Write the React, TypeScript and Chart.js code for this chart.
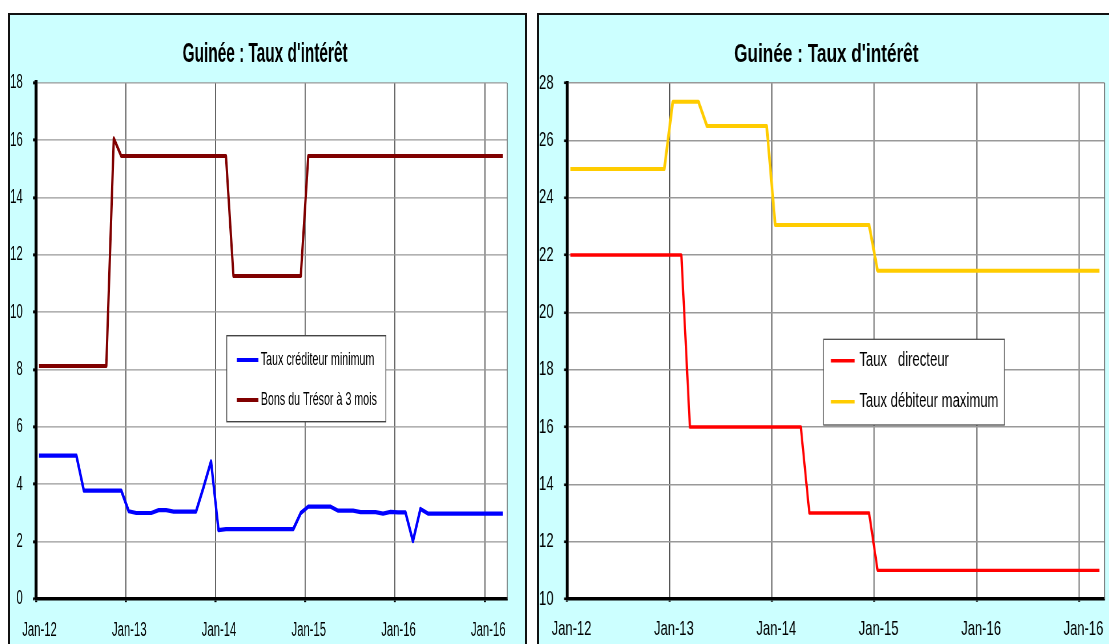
import React, { useEffect, useRef } from "react";
import { Chart, registerables } from "chart.js";

Chart.register(...registerables);

// ---------- DATA ----------
// Monthly observations, Jan-12 .. Mar-17 (63 months)
const MONTH_COUNT = 63;
const POINT_OFFSET = 0.4; // observations dated around mid-month
const X_TICK_MONTHS = [0, 12, 24, 36, 48, 60];
const X_TICK_LABELS = ["Jan-12", "Jan-13", "Jan-14", "Jan-15", "Jan-16", "Jan-16"];
const TITLE = "Guinée : Taux d'intérêt";

const tauxCrediteurMinimum = [
  5.0, 5.0, 5.0, 5.0, 5.0, 5.0,
  3.78, 3.78, 3.78, 3.78, 3.78, 3.78,
  3.06, 3.0, 3.0, 3.0, 3.1, 3.1, 3.05, 3.05, 3.05, 3.05, 3.9, 4.8,
  2.4, 2.44, 2.44, 2.44, 2.44, 2.44, 2.44, 2.44, 2.44, 2.44, 2.44,
  3.0, 3.22, 3.22, 3.22, 3.22, 3.08, 3.08, 3.08, 3.03, 3.03, 3.03, 2.98, 3.04,
  3.02, 3.02, 2.02, 3.14, 2.98, 2.98, 2.98, 2.98, 2.98, 2.98, 2.98, 2.98, 2.98, 2.98, 2.98,
];

const bonsTresor3Mois = [
  8.13, 8.13, 8.13, 8.13, 8.13, 8.13, 8.13, 8.13, 8.13, 8.13,
  16.07,
  15.45, 15.45, 15.45, 15.45, 15.45, 15.45, 15.45, 15.45, 15.45, 15.45, 15.45, 15.45, 15.45, 15.45, 15.45,
  11.27, 11.27, 11.27, 11.27, 11.27, 11.27, 11.27, 11.27, 11.27, 11.27,
  15.45, 15.45, 15.45, 15.45, 15.45, 15.45, 15.45, 15.45, 15.45, 15.45, 15.45, 15.45, 15.45, 15.45,
  15.45, 15.45, 15.45, 15.45, 15.45, 15.45, 15.45, 15.45, 15.45, 15.45, 15.45, 15.45, 15.45,
];

const tauxDirecteur = [
  22, 22, 22, 22, 22, 22, 22, 22, 22, 22, 22, 22, 22, 22,
  16, 16, 16, 16, 16, 16, 16, 16, 16, 16, 16, 16, 16, 16,
  13, 13, 13, 13, 13, 13, 13, 13,
  11, 11, 11, 11, 11, 11, 11, 11, 11, 11, 11, 11, 11, 11,
  11, 11, 11, 11, 11, 11, 11, 11, 11, 11, 11, 11, 11,
];

const tauxDebiteurMaximum = [
  25.0, 25.0, 25.0, 25.0, 25.0, 25.0, 25.0, 25.0, 25.0, 25.0, 25.0, 25.0,
  27.35, 27.35, 27.35, 27.35,
  26.5, 26.5, 26.5, 26.5, 26.5, 26.5, 26.5, 26.5,
  23.05, 23.05, 23.05, 23.05, 23.05, 23.05, 23.05, 23.05, 23.05, 23.05, 23.05, 23.05,
  21.45, 21.45, 21.45, 21.45, 21.45, 21.45, 21.45, 21.45, 21.45, 21.45, 21.45, 21.45, 21.45, 21.45,
  21.45, 21.45, 21.45, 21.45, 21.45, 21.45, 21.45, 21.45, 21.45, 21.45, 21.45, 21.45, 21.45,
];

// ---------- STYLE / LAYOUT ----------
const FONT = '"Liberation Sans", Arial, sans-serif';
const PANEL_BG = "#CCFFFF";

const LEFT_PANEL = {
  box: { left: 8, top: 13, width: 519 },
  origin: { x: 10, y: 15 },
  cssW: 515,
  cssH: 629,
  logicalH: 359,
  plot: { left: 36, right: 507, top: 83, bottom: 599 },
  yMin: 0,
  yMax: 18,
  tickFont: 11.3,
  titleFont: 15.4,
  title: { x: 265, y: 62 },
  xLabelOffset: 3.5,
  xPad: 9.2,
  yPad: 10.3,
  xBorder: 2.0,
  legend: {
    left: 226.7, right: 385.7, top: 335.7, bottom: 421.7,
    sx1: 236.7, sx2: 258.3, rows: [360, 400], textX: 260.7, font: 10.7, sampleW: 2.3,
  },
  series: [
    { label: "Taux créditeur minimum", values: tauxCrediteurMinimum, color: "#0000FF", width: 2.4 },
    { label: "Bons du Trésor à 3 mois", values: bonsTresor3Mois, color: "#800000", width: 2.3 },
  ],
};

const RIGHT_PANEL = {
  box: { left: 537, top: 13, width: 580 },
  origin: { x: 539, y: 15 },
  cssW: 576,
  cssH: 629,
  logicalH: 409,
  plot: { left: 567, right: 1104, top: 83, bottom: 599 },
  yMin: 10,
  yMax: 28,
  tickFont: 13.0,
  titleFont: 17.2,
  title: { x: 826, y: 62 },
  xLabelOffset: 4.5,
  xPad: 10.4,
  yPad: 10.5,
  xBorder: 2.3,
  legend: {
    left: 823.3, right: 1004, top: 339.3, bottom: 425,
    sx1: 830.7, sx2: 854.3, rows: [360.7, 401.7], textX: 859, font: 13.1, sampleW: 2.3,
  },
  series: [
    { label: "Taux   directeur", values: tauxDirecteur, color: "#FF0000", width: 2.2 },
    { label: "Taux débiteur maximum", values: tauxDebiteurMaximum, color: "#FFCC00", width: 2.6 },
  ],
};

const decorPlugin = {
  id: "decor",
  beforeDraw(chart: any) {
    const { ctx, chartArea: a } = chart;
    ctx.save();
    ctx.fillStyle = "#FFFFFF";
    ctx.fillRect(a.left, a.top, a.right - a.left, a.bottom - a.top);
    ctx.restore();
  },
  beforeDatasetsDraw(chart: any) {
    const { ctx, chartArea: a } = chart;
    ctx.save();
    ctx.strokeStyle = "#666";
    ctx.lineWidth = 1;
    ctx.beginPath();
    ctx.moveTo(a.right, a.top);
    ctx.lineTo(a.right, a.bottom);
    ctx.stroke();
    ctx.restore();
  },
  afterDraw(chart: any, _args: any, opts: any) {
    const { ctx } = chart;
    const lx = (px: number) => px - opts.origin.x;
    const ly = (py: number) => (py - opts.origin.y) / opts.k;
    ctx.save();
    // title
    ctx.fillStyle = "#000";
    ctx.font = `bold ${opts.titleFont}px ${FONT}`;
    ctx.textAlign = "center";
    ctx.textBaseline = "alphabetic";
    ctx.fillText(TITLE, lx(opts.title.x), ly(opts.title.y));
    // legend
    const L = opts.legend;
    ctx.fillStyle = "#FFFFFF";
    ctx.fillRect(lx(L.left), ly(L.top), L.right - L.left, ly(L.bottom) - ly(L.top));
    ctx.strokeStyle = "#444";
    ctx.lineWidth = 0.8;
    ctx.strokeRect(lx(L.left), ly(L.top), L.right - L.left, ly(L.bottom) - ly(L.top));
    ctx.font = `${L.font}px ${FONT}`;
    ctx.textAlign = "left";
    ctx.textBaseline = "middle";
    chart.data.datasets.forEach((ds: any, i: number) => {
      const y = ly(L.rows[i]);
      ctx.strokeStyle = ds.borderColor;
      ctx.lineWidth = L.sampleW;
      ctx.beginPath();
      ctx.moveTo(lx(L.sx1), y);
      ctx.lineTo(lx(L.sx2), y);
      ctx.stroke();
      ctx.fillStyle = "#000";
      ctx.fillText(ds.label, lx(L.textX), y);
    });
    ctx.restore();
  },
};

function Panel({ p }: { p: any }) {
  const ref = useRef<HTMLCanvasElement | null>(null);
  useEffect(() => {
    const canvas = ref.current;
    if (!canvas) return;
    const k = p.cssH / p.logicalH;
    const lx = (px: number) => px - p.origin.x;
    const ly = (py: number) => (py - p.origin.y) / k;
    const plotLeft = lx(p.plot.left);
    const plotRight = lx(p.plot.right);
    const plotTop = ly(p.plot.top);
    const plotBottom = ly(p.plot.bottom);

    const chart = new Chart(canvas, {
      type: "line",
      data: {
        datasets: p.series.map((s: any) => ({
          label: s.label,
          data: s.values.map((v: number, i: number) => ({ x: i + POINT_OFFSET, y: v })),
          borderColor: s.color,
          backgroundColor: s.color,
          borderWidth: s.width,
          pointRadius: 0,
          tension: 0,
          fill: false,
          borderJoinStyle: "round",
        })),
      },
      plugins: [decorPlugin],
      options: {
        responsive: false,
        animation: false,
        devicePixelRatio: k + 1e-6,
        events: [],
        layout: {
          padding: { top: plotTop, left: 0, right: p.cssW - plotRight, bottom: 0 },
        },
        plugins: {
          legend: { display: false },
          title: { display: false },
          tooltip: { enabled: false },
          decor: {
            origin: p.origin,
            k,
            title: p.title,
            titleFont: p.titleFont,
            legend: p.legend,
          },
        } as any,
        scales: {
          x: {
            type: "linear",
            min: 0,
            max: MONTH_COUNT,
            bounds: "data",
            afterBuildTicks: (s: any) => {
              s.ticks = X_TICK_MONTHS.map((v) => ({ value: v }));
            },
            afterFit: (s: any) => {
              s.height = p.logicalH - plotBottom;
              s.paddingLeft = 0;
              s.paddingRight = 0;
            },
            ticks: {
              autoSkip: false,
              maxRotation: 0,
              minRotation: 0,
              callback: (_v: any, i: number) => X_TICK_LABELS[i],
              font: { family: FONT, size: p.tickFont, lineHeight: 1.2 },
              color: "#000",
              padding: p.xPad,
              labelOffset: p.xLabelOffset,
            },
            grid: {
              color: "#555",
              lineWidth: 1,
              drawTicks: true,
              tickLength: 1.8,
              tickColor: "#000",
              tickWidth: 2,
            },
            border: { display: true, color: "#000", width: p.xBorder },
          },
          y: {
            type: "linear",
            min: p.yMin,
            max: p.yMax,
            afterFit: (s: any) => {
              s.width = plotLeft;
              s.paddingTop = 0;
              s.paddingBottom = 0;
            },
            ticks: {
              stepSize: 2,
              font: { family: FONT, size: p.tickFont, lineHeight: 1.2 },
              color: "#000",
              padding: p.yPad,
            },
            grid: {
              color: "#999",
              lineWidth: 0.85,
              drawTicks: true,
              tickLength: 3,
              tickColor: "#000",
              tickWidth: 1.7,
            },
            border: { display: true, color: "#000", width: 3 },
          },
        },
      } as any,
    });
    return () => chart.destroy();
  }, [p]);

  return (
    <div
      style={{
        position: "absolute",
        left: p.box.left,
        top: p.box.top,
        width: p.box.width,
        height: 700,
        boxSizing: "border-box",
        border: "2px solid #111",
        background: PANEL_BG,
      }}
    >
      <canvas
        ref={ref}
        width={p.cssW}
        height={p.logicalH}
        style={{ position: "absolute", left: 0, top: 0, width: p.cssW, height: p.cssH }}
      />
    </div>
  );
}

export default function App() {
  return (
    <div
      style={{
        position: "fixed",
        left: 0,
        top: 0,
        width: 1109,
        height: 644,
        overflow: "hidden",
        background: "#FFFFFF",
      }}
    >
      <Panel p={LEFT_PANEL} />
      <Panel p={RIGHT_PANEL} />
    </div>
  );
}
